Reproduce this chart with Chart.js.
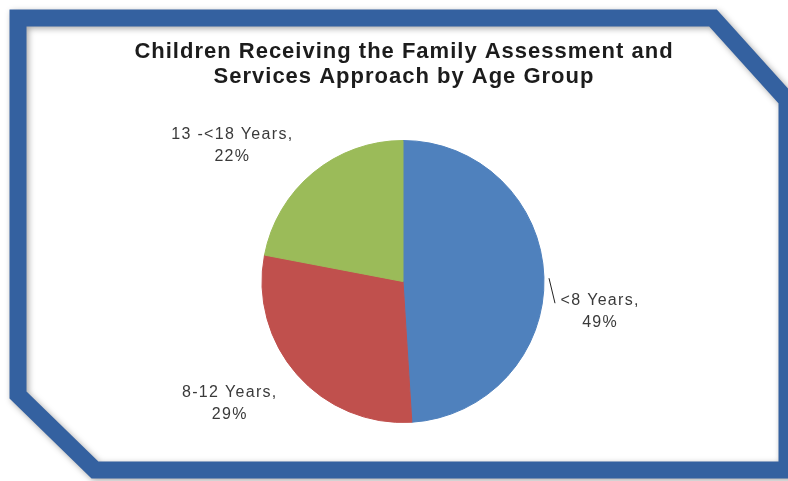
<!DOCTYPE html>
<html>
<head>
<meta charset="utf-8">
<script src="https://cdn.jsdelivr.net/npm/chart.js@4.4.1/dist/chart.umd.min.js"></script>
<style>
  html, body { margin: 0; padding: 0; background: #ffffff; }
  canvas { display: block; }
</style>
</head>
<body>
<canvas id="ageChart" width="788" height="481"></canvas>
<script>
// --- DATA ---
const titleLines = ['Children Receiving the Family Assessment and', 'Services Approach by Age Group'];
const ageGroups = ['<8 Years', '8-12 Years', '13 -<18 Years'];
const shares = [49, 29, 22];
const sliceColors = ['#4f81bd', '#c0504d', '#9bbb59'];

// label nudges relative to the slice's mid-angle anchor
const labelNudge = [[-3, 36], [-23, -10], [-43, 18]];

// --- FRAME (blue bevelled border) + TITLE ---
const framePlugin = {
    id: 'frame',
    beforeDraw(chart) {
        const ctx = chart.ctx;
        ctx.save();
        ctx.fillStyle = '#ffffff';
        ctx.fillRect(0, 0, chart.width, chart.height);
        ctx.beginPath();
        ctx.moveTo(18, 18);
        ctx.lineTo(713, 18);
        ctx.lineTo(787, 100);
        ctx.lineTo(787, 470);
        ctx.lineTo(95, 470);
        ctx.lineTo(18, 395);
        ctx.closePath();
        ctx.shadowColor = 'rgba(0,0,0,0.35)';
        ctx.shadowBlur = 6;
        ctx.shadowOffsetX = 2;
        ctx.shadowOffsetY = 2;
        ctx.lineJoin = 'miter';
        ctx.lineWidth = 17;
        ctx.strokeStyle = '#3461a0';
        ctx.stroke();
        ctx.restore();

        // title
        ctx.save();
        ctx.font = 'bold 22px "Liberation Sans", Arial, sans-serif';
        ctx.letterSpacing = '1px';
        ctx.fillStyle = '#1c1c1c';
        ctx.textAlign = 'center';
        ctx.textBaseline = 'middle';
        titleLines.forEach((line, i) => ctx.fillText(line, 404, 52 + i * 25));
        ctx.restore();
    }
};

// --- SLICE LABELS ---
const sliceLabels = {
    id: 'sliceLabels',
    afterDatasetsDraw(chart) {
        const ctx = chart.ctx;
        const arcs = chart.getDatasetMeta(0).data;
        ctx.save();
        ctx.font = '16px "Liberation Sans", Arial, sans-serif';
        ctx.letterSpacing = '1.3px';
        ctx.fillStyle = '#3a3a3a';
        ctx.textAlign = 'center';
        ctx.textBaseline = 'middle';
        arcs.forEach((arc, i) => {
            const p = arc.getProps(['x', 'y', 'startAngle', 'endAngle', 'outerRadius'], true);
            const mid = (p.startAngle + p.endAngle) / 2;
            const r = p.outerRadius * 1.42;
            const x = p.x + Math.cos(mid) * r + labelNudge[i][0];
            const y = p.y + Math.sin(mid) * r + labelNudge[i][1];
            ctx.fillText(ageGroups[i] + ',', x, y - 11);
            ctx.fillText(shares[i] + '%', x, y + 11);
            if (i === 0) {
                // leader line from the slice edge to the label
                ctx.strokeStyle = '#222222';
                ctx.lineWidth = 1;
                ctx.beginPath();
                ctx.moveTo(p.x + p.outerRadius + 5, y - 33);
                ctx.lineTo(p.x + p.outerRadius + 11, y - 8);
                ctx.stroke();
            }
        });
        ctx.restore();
    }
};

new Chart(document.getElementById('ageChart'), {
    type: 'pie',
    data: {
        labels: ageGroups,
        datasets: [{
            data: shares,
            backgroundColor: sliceColors,
            borderColor: sliceColors,
            borderWidth: 1
        }]
    },
    options: {
        responsive: false,
        animation: false,
        layout: { padding: { top: 140, bottom: 58, left: 200, right: 182 } },
        plugins: {
            legend: { display: false },
            tooltip: { enabled: false },
            title: { display: false }
        }
    },
    plugins: [framePlugin, sliceLabels]
});
</script>
</body>
</html>
